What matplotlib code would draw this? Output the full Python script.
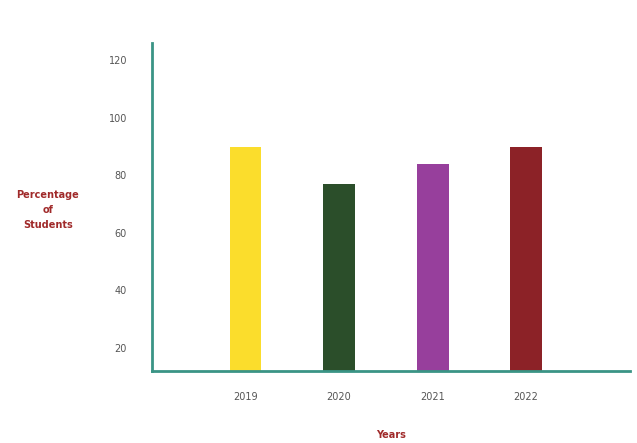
import matplotlib
matplotlib.use("Agg")
import matplotlib.pyplot as plt

# data
years = ['2019', '2020', '2021', '2022']
percent = [90, 77, 84, 90]
bar_colors = ['#fbdd2c', '#2b4e2a', '#973f9c', '#8c2227']
yticks = [20, 40, 60, 80, 100, 120]

fig = plt.figure(figsize=(6.37, 4.43), dpi=100)
ax = fig.add_axes([0.2386, 0.1625, 0.7504, 0.7405])

pos = list(range(1, len(years) + 1))
ax.bar(pos, percent, width=0.34, color=bar_colors)

ax.set_xlim(0, 5.11)
ax.set_ylim(12, 126)
ax.set_xticks(pos)
ax.set_xticklabels(years)
ax.set_yticks(yticks)

for s in ['top', 'right']:
    ax.spines[s].set_visible(False)
for s in ['left', 'bottom']:
    ax.spines[s].set_color('#3a9485')
    ax.spines[s].set_linewidth(2)

ax.tick_params(axis='both', length=0, labelsize=7, labelcolor='#555555')
ax.tick_params(axis='y', pad=18)
ax.tick_params(axis='x', pad=15)

fig.text(48 / 637, 1 - 210 / 443, 'Percentage\nof\nStudents', ha='center', va='center',
         fontsize=7, fontweight='bold', color='#a02a2a', linespacing=1.6)
fig.text(391 / 637, 1 - 435 / 443, 'Years', ha='center', va='center',
         fontsize=7, fontweight='bold', color='#a02a2a')

fig.savefig('out.png', dpi=100)
